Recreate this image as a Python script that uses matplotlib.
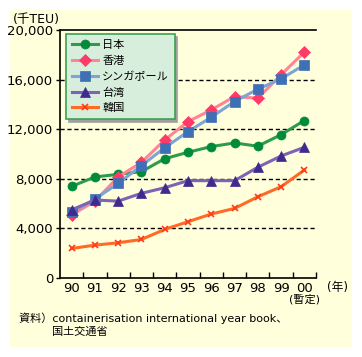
import matplotlib
matplotlib.use("Agg")
import matplotlib.pyplot as plt
from matplotlib.patches import Rectangle
import numpy as np

plt.rcParams['font.family'] = ['DejaVu Sans', 'Noto Sans CJK JP']

years = ["90", "91", "92", "93", "94", "95", "96", "97", "98", "99", "00"]
japan = [7390, 8150, 8360, 8580, 9620, 10140, 10600, 10890, 10630, 11560, 12700]
hongkong = [5080, 6200, 8150, 9330, 11130, 12610, 13560, 14630, 14500, 16390, 18220]
singapore = [5290, 6370, 7630, 9060, 10510, 11800, 12970, 14230, 15230, 16060, 17190]
taiwan = [5500, 6290, 6200, 6830, 7280, 7850, 7850, 7850, 8930, 9840, 10540]
korea = [2380, 2650, 2840, 3110, 3920, 4540, 5160, 5610, 6550, 7360, 8710]
yticks = [0, 4000, 8000, 12000, 16000, 20000]

W, H = 362, 357
fig = plt.figure(figsize=(W / 100, H / 100), dpi=100)
fig.patch.set_facecolor("white")
# light yellow panel behind everything
bg = Rectangle((10 / W, 10 / H), 342 / W, 337 / H, transform=fig.transFigure,
               facecolor="#FFFFDC", edgecolor="none", zorder=-10)
fig.patches.append(bg)

ax = fig.add_axes([60 / W, (H - 278) / H, 256 / W, 248 / H])
ax.set_facecolor("none")
x = np.arange(len(years))

series = [
    ("日本", japan, "#2E9B4A", "#008A3A", "o", 6.5),
    ("香港", hongkong, "#FF8496", "#FF3A68", "D", 6.5),
    ("シンガポール", singapore, "#7FA3D6", "#3F6FB5", "s", 7),
    ("台湾", taiwan, "#7E62B5", "#3F2A8E", "^", 7),
    ("韓国", korea, "#FF6A26", "#FF3A1A", "x", 5),
]
for name, vals, lc, mc, mk, ms in series:
    ax.plot(x, vals, color=lc, lw=2.2, marker=mk, markersize=ms,
            markerfacecolor=mc, markeredgecolor=mc, markeredgewidth=1.2 if mk == "x" else 0.5,
            label=name, clip_on=False, zorder=3)

ax.set_xlim(-0.5, 10.5)
ax.set_ylim(0, 20000)
ax.set_yticks(yticks)
ax.set_yticklabels([f"{v:,}" for v in yticks], fontsize=9.5)
for v in yticks[1:-1]:
    ax.plot([-0.5, 10.55], [v, v], color="black", lw=1, ls=(0, (3, 2)), zorder=1, clip_on=False)

ax.set_xticks(x)
ax.set_xticklabels(years, fontsize=9.5)
ax.set_xticks(np.arange(0.5, 11, 1), minor=True)
ax.tick_params(axis="x", which="major", length=0, pad=3)
ax.tick_params(axis="x", which="minor", direction="in", length=4, width=1)
ax.tick_params(axis="y", direction="out", length=3, width=1, pad=2)

ax.spines["right"].set_visible(False)
for s in ["left", "bottom", "top"]:
    ax.spines[s].set_linewidth(1.2)

leg = ax.legend(loc="upper left", bbox_to_anchor=(0.024, 0.982), borderaxespad=0,
                fontsize=8, handlelength=2.4, labelspacing=0.5, handletextpad=0.35,
                borderpad=0.5, fancybox=False, shadow={"color": "#A0A0A0", "alpha": 1},
                framealpha=1)
leg.get_frame().set_facecolor("#D8EEDC")
leg.get_frame().set_edgecolor("#3CA050")
leg.get_frame().set_linewidth(1.2)

fig.text(13 / W, 1 - 20 / H, "(千TEU)", fontsize=9, va="center", ha="left")
fig.text(337 / W, 1 - 287 / H, "(年)", fontsize=8.5, va="center", ha="center")
fig.text(304 / W, 1 - 299 / H, "(暫定)", fontsize=8, va="center", ha="center")
fig.text(19 / W, 1 - 318 / H, "資料）containerisation international year book、", fontsize=8,
         va="center", ha="left")
fig.text(52 / W, 1 - 332 / H, "国土交通省", fontsize=8, va="center", ha="left")

fig.savefig("out.png", dpi=100)
